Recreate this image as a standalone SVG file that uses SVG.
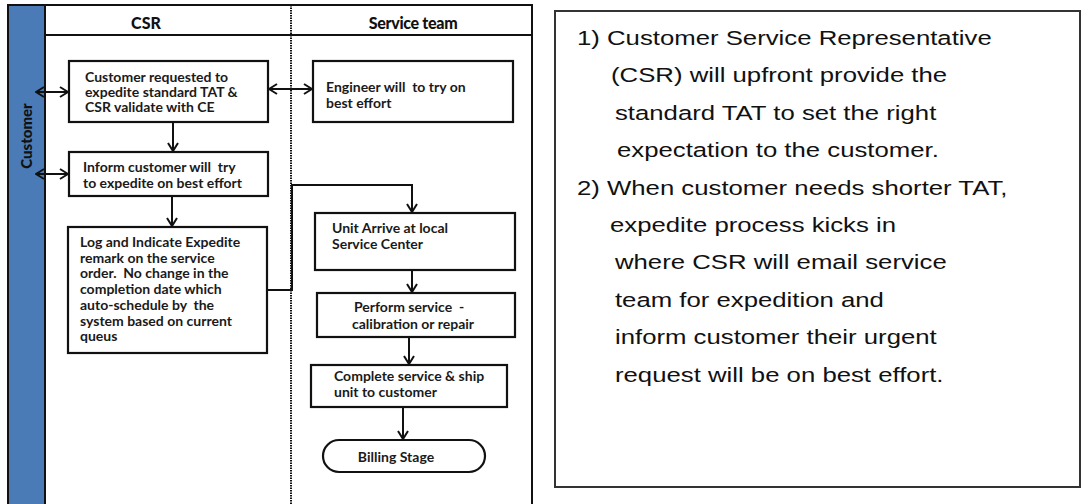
<svg xmlns="http://www.w3.org/2000/svg" width="1090" height="504" viewBox="0 0 1090 504">
  <style>
    .frame { fill: none; stroke: #111; stroke-width: 2; }
    .box { fill: #fff; stroke: #111; stroke-width: 2.2; }
    .lbl { font-family: Lato, "Liberation Sans", sans-serif; font-weight: 700; font-size: 14px; fill: #1a1a1a; white-space: pre; }
    .hdr { font-family: Lato, "Liberation Sans", sans-serif; font-weight: 900; font-size: 16px; fill: #111; }
    .link { fill: none; stroke: #111; stroke-width: 2; }
    .note { font-family: "Liberation Sans", Arial, sans-serif; font-size: 19.5px; fill: #111; }
  </style>
  <defs>
    <marker id="head" viewBox="0 0 10 12" refX="9" refY="6" markerWidth="10" markerHeight="12" markerUnits="userSpaceOnUse" orient="auto-start-reverse">
      <path d="M1,1 L9,6 L1,11" fill="none" stroke="#111" stroke-width="2"/>
    </marker>
  </defs>

  <rect width="1090" height="504" fill="#fff"/>

  <!-- swimlane frame -->
  <g id="lanes">
    <rect x="8" y="5" width="37" height="502" fill="#4a7bb7" stroke="#111" stroke-width="2"/>
    <text class="hdr" transform="translate(32,136) rotate(-90)" text-anchor="middle" fill="#0d1a2e" style="font-size:15px">Customer</text>
    <path class="frame" d="M45,5 H532 V504 M45,35 H532"/>
    <line x1="291" y1="5" x2="291" y2="504" stroke="#111" stroke-width="2" stroke-dasharray="1.5 1"/>
    <text class="hdr" x="146" y="29" text-anchor="middle">CSR</text>
    <text class="hdr" x="413" y="29" text-anchor="middle" letter-spacing="-0.3">Service team</text>
  </g>

  <!-- CSR lane -->
  <g id="csr-request">
    <rect class="box" x="69" y="61" width="199" height="61"/>
    <text class="lbl"><tspan x="85" y="82">Customer requested to</tspan><tspan x="85" y="97">expedite standard TAT &amp;</tspan><tspan x="85" y="112">CSR validate with CE</tspan></text>
  </g>
  <g id="csr-inform">
    <rect class="box" x="69" y="152" width="199" height="44"/>
    <text class="lbl"><tspan x="83" y="172">Inform customer will  try</tspan><tspan x="83" y="188">to expedite on best effort</tspan></text>
  </g>
  <g id="csr-log">
    <rect class="box" x="68" y="227" width="199" height="126"/>
    <text class="lbl"><tspan x="80" y="247">Log and Indicate Expedite</tspan><tspan x="80" y="263">remark on the service</tspan><tspan x="80" y="278">order.  No change in the</tspan><tspan x="80" y="294">completion date which</tspan><tspan x="80" y="310">auto-schedule by  the</tspan><tspan x="80" y="326">system based on current</tspan><tspan x="80" y="341">queus</tspan></text>
  </g>

  <!-- Service team lane -->
  <g id="svc-engineer">
    <rect class="box" x="313" y="61" width="200" height="61"/>
    <text class="lbl"><tspan x="326" y="92">Engineer will  to try on</tspan><tspan x="326" y="108">best effort</tspan></text>
  </g>
  <g id="svc-arrive">
    <rect class="box" x="315" y="213" width="200" height="57"/>
    <text class="lbl"><tspan x="332" y="233">Unit Arrive at local</tspan><tspan x="332" y="249">Service Center</tspan></text>
  </g>
  <g id="svc-perform">
    <rect class="box" x="317" y="293" width="198" height="44"/>
    <text class="lbl"><tspan x="354" y="312">Perform service  -</tspan><tspan x="352" y="329">calibration or repair</tspan></text>
  </g>
  <g id="svc-complete">
    <rect class="box" x="311" y="365" width="196" height="42"/>
    <text class="lbl"><tspan x="334" y="381">Complete service &amp; ship</tspan><tspan x="334" y="397">unit to customer</tspan></text>
  </g>
  <g id="svc-billing">
    <rect class="box" x="323" y="440" width="162" height="32" rx="16" ry="16"/>
    <text class="lbl" x="396" y="462" text-anchor="middle">Billing Stage</text>
  </g>

  <!-- connectors -->
  <g id="connectors">
    <line class="link" x1="36" y1="92" x2="68" y2="92" marker-start="url(#head)" marker-end="url(#head)"/>
    <line class="link" x1="36" y1="174" x2="68" y2="174" marker-start="url(#head)" marker-end="url(#head)"/>
    <line class="link" x1="269" y1="89" x2="312" y2="89" marker-start="url(#head)" marker-end="url(#head)"/>
    <line class="link" x1="173" y1="122" x2="173" y2="151" marker-end="url(#head)"/>
    <line class="link" x1="172" y1="196" x2="172" y2="226" marker-end="url(#head)"/>
    <path class="link" d="M267,290 H292 V185 H412 V212" marker-end="url(#head)"/>
    <line class="link" x1="412" y1="270" x2="412" y2="292" marker-end="url(#head)"/>
    <line class="link" x1="409" y1="337" x2="409" y2="364" marker-end="url(#head)"/>
    <line class="link" x1="403" y1="407" x2="403" y2="439" marker-end="url(#head)"/>
  </g>

  <!-- notes panel -->
  <g id="notes">
    <rect x="555" y="11" width="525" height="476" fill="#fff" stroke="#333" stroke-width="2"/>
    <g transform="scale(1.32,1)">
      <text class="note"><tspan x="437.1" y="45">1) Customer Service Representative</tspan><tspan x="462.9" y="82.4">(CSR) will upfront provide the</tspan><tspan x="465.9" y="119.8">standard TAT to set the right</tspan><tspan x="467.4" y="157.2">expectation to the customer.</tspan><tspan x="437.1" y="194.6">2) When customer needs shorter TAT,</tspan><tspan x="462.1" y="232">expedite process kicks in</tspan><tspan x="465.9" y="269.4">where CSR will email service</tspan><tspan x="465.9" y="306.8">team for expedition and</tspan><tspan x="465.9" y="344.2">inform customer their urgent</tspan><tspan x="465.9" y="381.6">request will be on best effort.</tspan></text>
    </g>
  </g>
</svg>
